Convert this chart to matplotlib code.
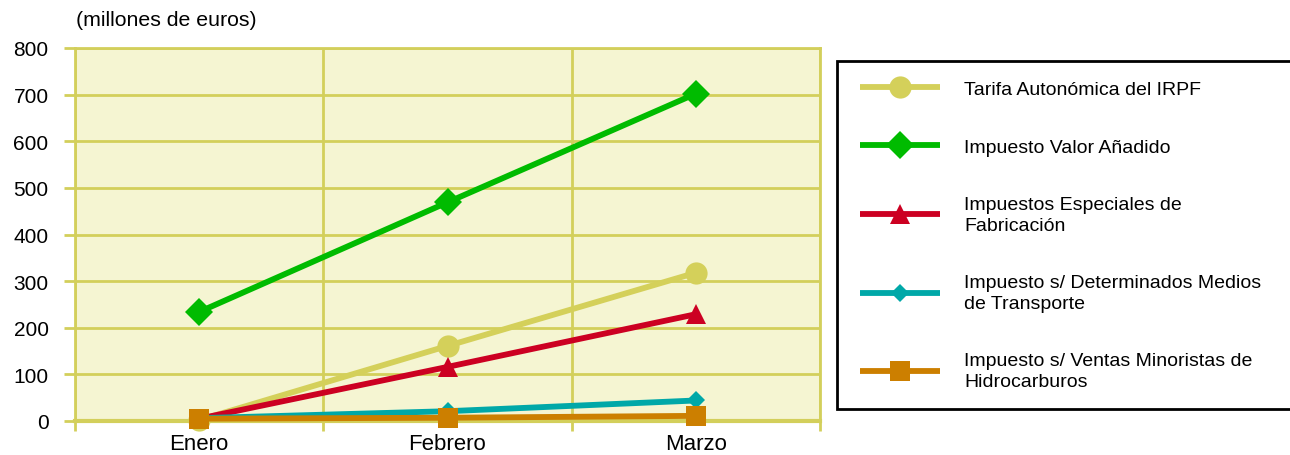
import matplotlib
matplotlib.use("Agg")
import matplotlib.pyplot as plt
from matplotlib.ticker import FixedLocator
from matplotlib.lines import Line2D
from matplotlib.legend_handler import HandlerLine2D

months = ["Enero", "Febrero", "Marzo"]
irpf = [2, 161, 318]
iva = [234, 469, 702]
ief = [5, 116, 229]
iedmt = [6, 21, 44]
ivmdh = [5, 7, 11]

labels = ["Tarifa Autonómica del IRPF",
          "Impuesto Valor Añadido",
          "Impuestos Especiales de\nFabricación",
          "Impuesto s/ Determinados Medios\nde Transporte",
          "Impuesto s/ Ventas Minoristas de\nHidrocarburos"]
yticks = [0, 100, 200, 300, 400, 500, 600, 700, 800]

grid_c = "#d3cf5b"
bg_c = "#f5f5d2"
colors = ["#d4d05a", "#00bb00", "#cc0022", "#00a8a8", "#cc7f00"]
markers = ["o", "D", "^", "D", "s"]
msizes = [16, 14, 15, 9.5, 15]

plt.rcParams["font.family"] = ["Liberation Sans", "DejaVu Sans"]

fig = plt.figure(figsize=(12.9, 4.56), dpi=100)
ax = fig.add_axes([75/1290, 34/456, 745/1290, 373/456])
ax.set_facecolor(bg_c)

x = list(range(len(months)))
series = [irpf, iva, ief, iedmt, ivmdh]
handles = []
for s, c, m, ms, lab in zip(series, colors, markers, msizes, labels):
    h, = ax.plot(x, s, color=c, lw=4.2, marker=m, markersize=ms,
                 markeredgewidth=0, label=lab, solid_capstyle="butt", clip_on=False)
    handles.append(h)

ax.set_xlim(-0.5, 2.5)
ax.set_ylim(0, 800)
ax.yaxis.set_major_locator(FixedLocator(yticks))
ax.set_yticklabels([str(v) for v in yticks], fontsize=15)
ax.set_xticks(x)
ax.set_xticklabels(months, fontsize=16)
ax.xaxis.set_minor_locator(FixedLocator([-0.5, 0.5, 1.5, 2.5]))
ax.tick_params(axis="x", which="major", length=0, pad=9)
ax.tick_params(axis="x", which="minor", length=7, width=2, color=grid_c)
ax.tick_params(axis="y", which="major", length=8, width=2, color=grid_c, pad=11)
ax.grid(axis="y", color=grid_c, lw=2)
ax.grid(axis="x", which="minor", color=grid_c, lw=2)
ax.set_axisbelow(True)
for sp in ax.spines.values():
    sp.set_color(grid_c)
    sp.set_linewidth(2)
ax.spines["bottom"].set_linewidth(3)
ax.spines["bottom"].set_zorder(1.5)

fig.text(76/1290, 1 - 20/456, "(millones de euros)", fontsize=15.3,
         ha="left", va="center")

leg = fig.legend(handles=handles, loc="upper left",
                 bbox_to_anchor=(837/1290, 0.0, 480/1290, 1 - 62/456),
                 mode="expand",
                 prop={"size": 14},
                 handler_map={Line2D: HandlerLine2D(xpad=0.21)},
                 frameon=True, fancybox=False, edgecolor="black", framealpha=1,
                 handlelength=4.33, handletextpad=1.24, labelspacing=2.07,
                 borderpad=0.98, borderaxespad=0)
leg.get_frame().set_linewidth(2)
for t in leg.get_texts():
    t.set_linespacing(1.3)

fig.savefig("out.png", dpi=100)
